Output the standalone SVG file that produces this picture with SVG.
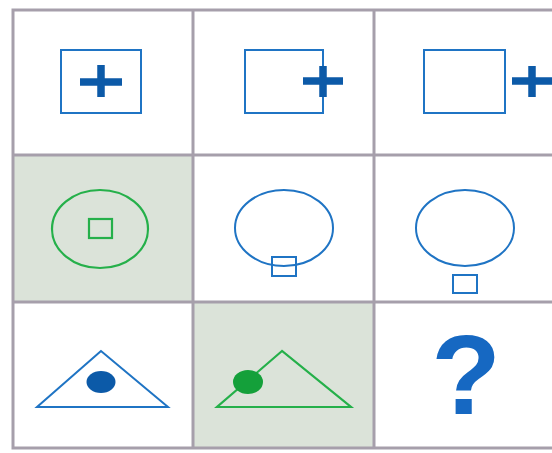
<svg xmlns="http://www.w3.org/2000/svg" width="552" height="453" viewBox="0 0 552 453">
<style>
.grid{stroke:#a69fab;stroke-width:3;fill:none}
.shade{fill:#dbe3d9}
.bl{fill:none;stroke:#1f74c4;stroke-width:2}
.gr{fill:none;stroke:#25b04a;stroke-width:2.2}
.plus{stroke:#0c5aa8;stroke-width:7.5;fill:none}
</style>
<rect width="552" height="453" fill="#ffffff"/>
<rect class="shade" x="13" y="155" width="180" height="147"/>
<rect class="shade" x="193" y="302" width="181" height="146"/>
<g id="grid">
<rect class="grid" x="13" y="10" width="545" height="438"/>
<line class="grid" x1="193" y1="10" x2="193" y2="448"/>
<line class="grid" x1="374" y1="10" x2="374" y2="448"/>
<line class="grid" x1="13" y1="155" x2="558" y2="155"/>
<line class="grid" x1="13" y1="302" x2="558" y2="302"/>
</g>
<g id="c11">
<rect class="bl" x="61" y="50" width="80" height="63"/>
<path class="plus" d="M80 82H122M101 65V97"/>
</g>
<g id="c12">
<rect class="bl" x="245" y="50" width="78" height="63"/>
<path class="plus" d="M303 81H343M323 66V97"/>
</g>
<g id="c13">
<rect class="bl" x="424" y="50" width="81" height="63"/>
<path class="plus" d="M512 81H553M532 66V97"/>
</g>
<g id="c21">
<ellipse class="gr" cx="100" cy="229" rx="48" ry="39"/>
<rect class="gr" x="89" y="219" width="23" height="19"/>
</g>
<g id="c22">
<ellipse class="bl" cx="284" cy="228" rx="49" ry="38"/>
<rect class="bl" x="272" y="257" width="24" height="19"/>
</g>
<g id="c23">
<ellipse class="bl" cx="465" cy="228" rx="49" ry="38"/>
<rect class="bl" x="453" y="275" width="24" height="18"/>
</g>
<g id="c31">
<polygon class="bl" points="101,351 37,407 168,407"/>
<ellipse cx="101" cy="382" rx="14.5" ry="11" fill="#0c5aa8"/>
</g>
<g id="c32">
<polygon class="gr" points="282,351 217,407 351,407"/>
<ellipse cx="248" cy="382" rx="15" ry="12" fill="#14a03a"/>
</g>
<g id="c33">
<text x="466" y="414" text-anchor="middle" font-family="Liberation Sans, Arial, sans-serif" font-weight="bold" font-size="114" fill="#1668c2">?</text>
</g>
</svg>
